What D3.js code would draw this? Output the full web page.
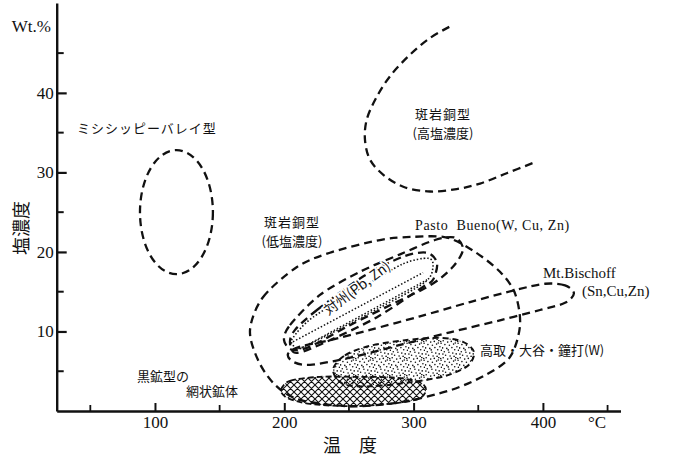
<!DOCTYPE html>
<html>
<head>
<meta charset="utf-8">
<script src="https://cdn.jsdelivr.net/npm/d3@7"></script>
<style>
  body { margin: 0; background: #fff; }
  .jp { font-family: "Noto Sans CJK JP", sans-serif; fill: #111; }
  .lat { font-family: "Liberation Serif", serif; fill: #111; }
  .axis path, .axis line { stroke: #111; }
  .axis text { font-family: "Liberation Serif", serif; font-size: 17px; fill: #111; }
</style>
</head>
<body>
<svg id="chart"></svg>
<script>
var viewWidth = 682;
var viewHeight = 456;

// tick values
var yMajor = [10, 20, 30, 40];
var yMinor = [5, 15, 25, 35, 45];
var xMajor = [100, 200, 300, 400];
var xMinor = [50, 150, 250, 350, 450];

// regions, [temperature C, salinity wt%]
var mvtRange = [[88.4, 144.8], [17.2, 32.8]];   // Mississippi Valley
var porphyryHigh = [[327.6,48.3],[312.7,46.9],[297.2,44.8],[281.8,42.1],[271.5,39.5],[263.7,36.6],
  [262.4,34.1],[266.3,31.6],[276.6,29.7],[292.0,28.2],[312.7,27.6],[333.3,27.9],[351.4,28.6],
  [372.0,29.9],[392.6,31.2]];
var porphyryLow = [[173.5,10.2],[183.5,14.3],[209.8,18.1],[235.3,19.9],[274.0,21.5],[299.5,21.9],
  [325.8,21.8],[347.5,20.0],[366.8,17.5],[378.4,14.8],[382.3,10.8],[374.6,6.8],[355.2,4.5],
  [328.2,2.6],[289.5,1.1],[250.8,0.6],[212.1,1.4],[192.8,3.3],[179.7,6.4]];
var pastoBueno = [[199.8,8.9],[204.4,10.8],[227.6,14.6],[258.5,17.5],[289.5,19.7],[316.5,21.5],
  [332.0,21.8],[338.2,20.3],[329.7,18.0],[312.7,15.8],[281.7,13.3],[250.8,10.8],[219.9,8.1],[206.0,7.7]];
var taishuOuter = [[208.3,10.2],[225.3,12.7],[260.9,16.9],[291.8,19.4],[310.4,19.9],[318.1,18.6],
  [315.0,16.5],[307.2,15.6],[271.7,11.8],[235.3,8.9],[209.8,7.3],[204.4,8.6]];
var taishu = [[206.7,9.2],[222.2,11.8],[260.9,15.6],[291.8,18.5],[311.1,19.2],[315.0,18.2],
  [308.8,16.2],[274.0,13.0],[235.3,9.7],[212.1,7.9],[206.7,8.3]];
var taishuInner = [[[206.7,8.7],[307.3,17.4]], [[212.1,7.8],[310.4,16.5]]];
var bischoff = [[424.0,14.8],[417.1,15.8],[401.6,16.0],[378.4,15.2],[343.6,13.7],[304.9,11.9],
  [266.3,10.2],[235.3,8.9],[212.1,8.1],[202.9,7.2],[206.7,6.2],[219.9,5.8],[250.8,6.7],
  [289.5,8.3],[328.2,9.9],[366.8,11.4],[397.8,12.7],[417.1,13.6]];
var takatori = [[237.7,5.2],[246.9,7.0],[266.3,8.2],[293.3,8.9],[320.4,9.2],[338.2,8.7],
  [346.7,7.4],[342.0,5.7],[324.3,4.4],[297.2,3.6],[266.3,3.1],[245.4,3.4]];
var kuroko = [[197.5,2.6],[204.4,3.8],[227.6,4.3],[254.7,4.3],[285.6,4.2],[304.9,3.6],
  [309.6,2.6],[303.4,1.5],[281.7,0.9],[250.8,0.6],[219.9,0.9],[202.9,1.6]];

var svg = d3.select("#chart")
    .attr("width", viewWidth)
    .attr("height", viewHeight);

var x = d3.scaleLinear().domain([24, 460]).range([56.7, 620.5]);
var y = d3.scaleLinear().domain([0, 51.3]).range([411, 3]);

var closedLine = d3.line()
    .x(function(d) { return x(d[0]); })
    .y(function(d) { return y(d[1]); })
    .curve(d3.curveCardinalClosed.tension(0.1));
var openLine = d3.line()
    .x(function(d) { return x(d[0]); })
    .y(function(d) { return y(d[1]); })
    .curve(d3.curveCatmullRom);

// patterns
var defs = svg.append("defs");
var hatch = defs.append("pattern")
    .attr("id", "hatch")
    .attr("patternUnits", "userSpaceOnUse")
    .attr("width", 7).attr("height", 7);
hatch.append("path").attr("d", "M0,0L7,7M-1,6L1,8M6,-1L8,1M0,7L7,0M-1,1L1,-1M6,8L8,6")
    .attr("stroke", "#111").attr("stroke-width", 1.1);

// irregular stipple tile
var dots = [[1.2,0.8],[5.7,2.1],[9.3,1.4],[13.8,0.6],[16.1,3.2],[2.9,4.6],[7.4,5.3],[11.6,4.1],
  [14.9,6.7],[0.6,7.9],[4.8,8.4],[9.9,7.6],[12.7,9.8],[16.4,10.3],[2.3,11.7],[6.9,12.2],
  [10.8,13.1],[14.2,13.9],[3.6,15.2],[8.1,16.0],[12.1,16.4],[0.9,14.1],[15.7,1.5],[6.2,9.9],[13.3,3.0]];
var stip = defs.append("pattern")
    .attr("id", "stip")
    .attr("patternUnits", "userSpaceOnUse")
    .attr("width", 17).attr("height", 17);
stip.selectAll("circle").data(dots).enter().append("circle")
    .attr("cx", function(d) { return d[0]; })
    .attr("cy", function(d) { return d[1]; })
    .attr("r", 0.8)
    .attr("fill", "#111");

var dash = "8,5";

// Mississippi Valley
svg.append("ellipse")
    .attr("cx", x((mvtRange[0][0] + mvtRange[0][1]) / 2))
    .attr("cy", y((mvtRange[1][0] + mvtRange[1][1]) / 2))
    .attr("rx", (x(mvtRange[0][1]) - x(mvtRange[0][0])) / 2)
    .attr("ry", (y(mvtRange[1][0]) - y(mvtRange[1][1])) / 2)
    .attr("fill", "none").attr("stroke", "#111")
    .attr("stroke-width", 2.3).attr("stroke-dasharray", dash);

// high salinity porphyry
svg.append("path").attr("d", openLine(porphyryHigh))
    .attr("fill", "none").attr("stroke", "#111")
    .attr("stroke-width", 2.3).attr("stroke-dasharray", dash);

// stippled and hatched fills
svg.append("path").attr("d", closedLine(takatori))
    .attr("fill", "url(#stip)").attr("stroke", "#111")
    .attr("stroke-width", 2).attr("stroke-dasharray", "6,4");
svg.append("path").attr("d", closedLine(kuroko))
    .attr("fill", "url(#hatch)").attr("stroke", "#111")
    .attr("stroke-width", 1.8).attr("stroke-dasharray", "6,3");

[porphyryLow, pastoBueno, bischoff, taishuOuter].forEach(function(p) {
  svg.append("path").attr("d", closedLine(p))
      .attr("fill", "none").attr("stroke", "#111")
      .attr("stroke-width", 2.3).attr("stroke-dasharray", dash);
});

svg.append("path").attr("d", closedLine(taishu))
    .attr("fill", "none").attr("stroke", "#111")
    .attr("stroke-width", 1.6).attr("stroke-dasharray", "1.5,2");
taishuInner.forEach(function(l) {
  svg.append("path").attr("d", openLine(l))
      .attr("fill", "none").attr("stroke", "#111")
      .attr("stroke-width", 1.5).attr("stroke-dasharray", "1.5,2");
});

// axes
var yAxis = d3.axisLeft(y).tickValues(yMajor).tickSize(-10).tickSizeOuter(0).tickPadding(3);
var gy = svg.append("g").attr("class", "axis")
    .attr("transform", "translate(" + x(24) + ",0)")
    .call(yAxis);
gy.select(".domain").attr("stroke-width", 2.4);
gy.selectAll(".tick line").attr("stroke-width", 2.2);
gy.selectAll(".minor").data(yMinor).enter().append("line")
    .attr("x1", 0).attr("x2", 7)
    .attr("y1", function(d) { return y(d); }).attr("y2", function(d) { return y(d); })
    .attr("stroke", "#111").attr("stroke-width", 2);

var xAxis = d3.axisBottom(x).tickValues(xMajor).tickSize(-8).tickSizeOuter(0).tickPadding(5);
var gx = svg.append("g").attr("class", "axis")
    .attr("transform", "translate(0," + y(0) + ")")
    .call(xAxis);
gx.select(".domain").attr("stroke-width", 2.6);
gx.selectAll(".tick line").attr("stroke-width", 2);
gx.selectAll(".minor").data(xMinor).enter().append("line")
    .attr("x1", function(d) { return x(d); }).attr("x2", function(d) { return x(d); })
    .attr("y1", 0).attr("y2", -6)
    .attr("stroke", "#111").attr("stroke-width", 1.8);

// axis titles
svg.append("text").attr("class", "lat").attr("x", 51).attr("y", 32)
    .attr("text-anchor", "end").style("font-size", "17px").text("Wt.%");
svg.append("text").attr("class", "lat").attr("x", 597).attr("y", 428)
    .attr("text-anchor", "middle").style("font-size", "17px").text("°C");
svg.append("text").attr("class", "jp").attr("x", 350).attr("y", 452)
    .attr("text-anchor", "middle").style("font-size", "18px").text("温\u3000度");
svg.append("text").attr("class", "jp")
    .attr("transform", "translate(28,228) rotate(-90)")
    .attr("text-anchor", "middle").style("font-size", "18px").text("塩濃度");

// region labels
function label(cls, tx, ty, size, s, anchor) {
  return svg.append("text").attr("class", cls).attr("x", tx).attr("y", ty)
      .attr("text-anchor", anchor || "start").style("font-size", size + "px").text(s);
}
label("jp", 77, 133, 13, "ミシシッピーバレイ型").style("letter-spacing", "1px");
label("jp", 443, 119, 13, "斑岩銅型", "middle").style("letter-spacing", "1px");
label("jp", 443, 138, 13, "(高塩濃度)", "middle");
label("jp", 292, 227, 13, "斑岩銅型", "middle").style("letter-spacing", "1px");
label("jp", 292, 246, 13, "(低塩濃度)", "middle");
label("lat", 415, 230, 14, "Pasto\u00a0\u00a0Bueno(W, Cu, Zn)").style("letter-spacing", "0.6px");
label("lat", 543, 278, 15, "Mt.Bischoff");
label("lat", 582, 296, 15, "(Sn,Cu,Zn)");
label("jp", 480, 355, 13, "高取・大谷・鐘打(W)");
label("jp", 137, 381, 13, "黒鉱型の");
label("jp", 186, 396, 13, "網状鉱体");
svg.append("text").attr("class", "jp")
    .attr("transform", "translate(360,292) rotate(-37)")
    .attr("text-anchor", "middle").style("font-size", "14px")
    .attr("stroke", "#fff").attr("stroke-width", 3).attr("paint-order", "stroke")
    .text("対州(Pb, Zn)");
</script>
</body>
</html>
